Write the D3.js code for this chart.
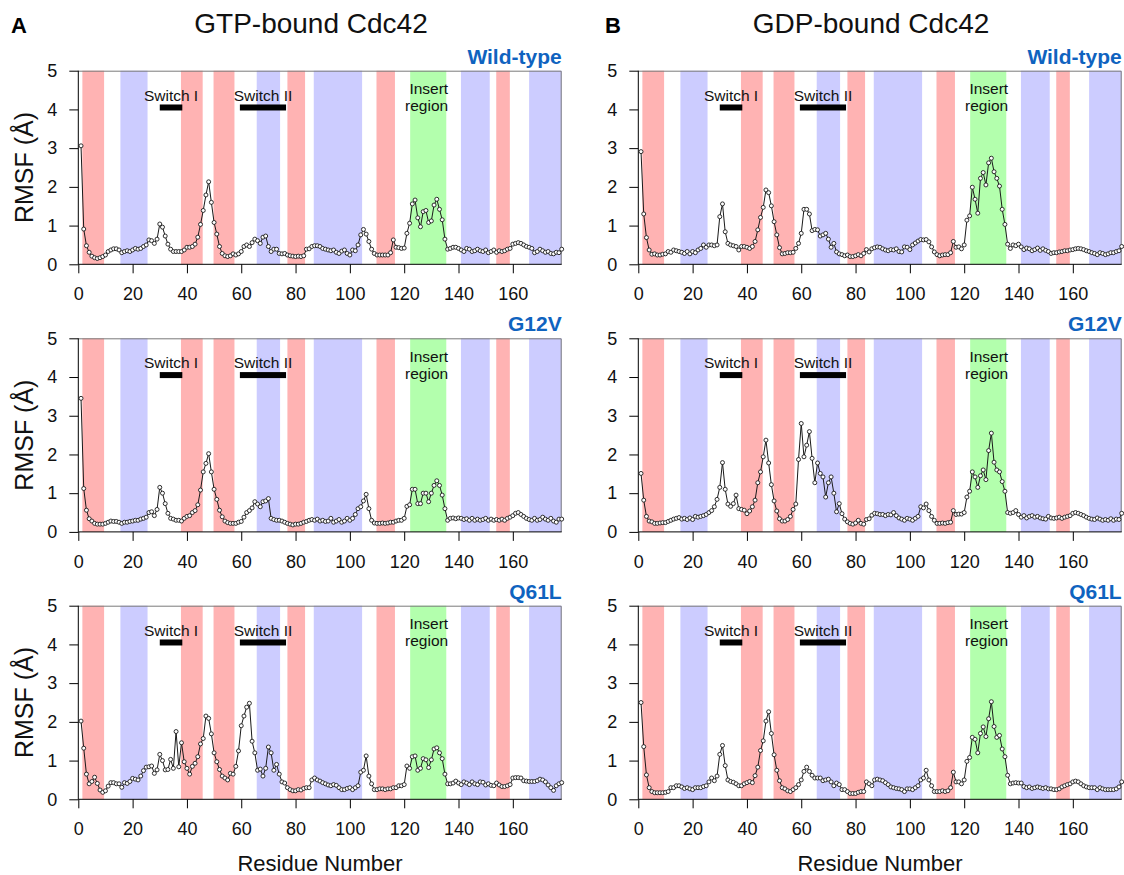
<!DOCTYPE html>
<html>
<head>
<meta charset="utf-8">
<script src="https://cdn.jsdelivr.net/npm/d3@7"></script>
<style>
  body { margin: 0; background: #fff; }
  text { font-family: Arial, "Liberation Sans", sans-serif; }
</style>
</head>
<body>
<svg id="chart" width="1124" height="875"></svg>
<script>
// residue axis and RMSF axis
const residueMax = 178;
const xTickValues = [0, 20, 40, 60, 80, 100, 120, 140, 160];
const yTickValues = [0, 1, 2, 3, 4, 5];

// secondary structure shading (residue ranges)
const strandBands = [[1.5, 9.5], [37.8, 45.8], [49.8, 57.5], [77, 83.5], [109.8, 116.6], [153.9, 158.9]];
const helixBands = [[15.5, 25.5], [65.7, 74.3], [86.7, 104.5], [140.9, 151.5], [166, 178]];
const insertBand = [[122.2, 135.5]];
const switchLabels = ['Switch I', 'Switch II'];
const switchRanges = [[30, 38.3], [59.5, 76.5]];

const columnTitles = ['GTP-bound Cdc42', 'GDP-bound Cdc42'];
const panelLetters = ['A', 'B'];
const variantNames = ['Wild-type', 'G12V', 'Q61L'];

// RMSF (Å) per residue, residues 1..178
const gtpWildType = [
  3.06,0.91,0.48,0.31,0.21,0.17,0.15,0.17,0.2,0.24,
  0.33,0.37,0.4,0.4,0.37,0.3,0.33,0.35,0.33,0.37,
  0.41,0.39,0.41,0.46,0.5,0.63,0.61,0.54,0.65,1.04,
  0.96,0.73,0.52,0.39,0.33,0.33,0.33,0.33,0.37,0.44,
  0.44,0.46,0.52,0.7,1.03,1.39,1.79,2.13,1.6,1.08,
  0.78,0.46,0.28,0.22,0.2,0.22,0.27,0.24,0.27,0.33,
  0.46,0.5,0.46,0.56,0.65,0.61,0.54,0.7,0.73,0.46,
  0.33,0.39,0.39,0.28,0.27,0.28,0.24,0.22,0.21,0.2,
  0.21,0.2,0.22,0.39,0.4,0.46,0.48,0.48,0.46,0.41,
  0.39,0.37,0.35,0.37,0.31,0.28,0.34,0.37,0.28,0.24,
  0.37,0.35,0.5,0.76,0.9,0.78,0.59,0.39,0.28,0.24,
  0.24,0.24,0.24,0.24,0.3,0.63,0.44,0.43,0.41,0.42,
  0.8,1.06,1.56,1.66,1.2,0.97,1.36,1.39,1.08,1.12,
  1.53,1.68,1.42,1.15,0.65,0.39,0.41,0.44,0.44,0.41,
  0.37,0.33,0.41,0.39,0.33,0.35,0.39,0.35,0.33,0.37,
  0.3,0.33,0.37,0.31,0.35,0.33,0.35,0.39,0.41,0.52,
  0.54,0.56,0.54,0.5,0.46,0.44,0.41,0.3,0.33,0.39,
  0.35,0.31,0.33,0.28,0.27,0.31,0.3,0.39
];
const gtpG12V = [
  3.45,1.12,0.56,0.34,0.28,0.22,0.2,0.2,0.2,0.22,
  0.25,0.28,0.27,0.27,0.25,0.22,0.25,0.25,0.27,0.28,
  0.3,0.3,0.33,0.35,0.38,0.5,0.52,0.42,0.58,1.15,
  1.0,0.73,0.48,0.35,0.33,0.3,0.3,0.28,0.35,0.4,
  0.42,0.5,0.55,0.7,1.08,1.55,1.77,2.02,1.55,1.1,
  0.84,0.56,0.39,0.28,0.24,0.22,0.22,0.22,0.25,0.27,
  0.38,0.5,0.55,0.62,0.78,0.72,0.65,0.78,0.8,0.86,
  0.35,0.32,0.3,0.3,0.28,0.25,0.22,0.2,0.18,0.2,
  0.2,0.22,0.25,0.27,0.3,0.32,0.3,0.33,0.28,0.3,
  0.27,0.28,0.35,0.25,0.28,0.32,0.25,0.28,0.35,0.3,
  0.35,0.45,0.6,0.65,0.8,0.97,0.6,0.3,0.23,0.22,
  0.22,0.23,0.22,0.23,0.25,0.25,0.28,0.3,0.3,0.35,
  0.66,0.7,1.1,1.1,0.73,0.73,1.0,1.0,0.78,1.0,
  1.2,1.32,1.2,0.95,0.6,0.3,0.35,0.36,0.34,0.36,
  0.35,0.32,0.34,0.3,0.35,0.3,0.33,0.3,0.32,0.35,
  0.3,0.33,0.3,0.32,0.3,0.33,0.3,0.35,0.38,0.42,
  0.48,0.5,0.45,0.4,0.35,0.32,0.3,0.35,0.3,0.32,
  0.38,0.33,0.3,0.35,0.28,0.25,0.33,0.33
];
const gtpQ61L = [
  2.02,1.32,0.65,0.4,0.46,0.57,0.41,0.24,0.18,0.22,
  0.34,0.43,0.43,0.4,0.4,0.31,0.43,0.41,0.46,0.54,
  0.52,0.5,0.6,0.74,0.83,0.84,0.86,0.67,0.76,1.16,
  1.0,0.76,0.77,1.03,0.8,1.75,0.84,1.46,0.97,0.8,
  0.65,0.85,0.93,1.1,1.43,1.57,2.15,2.09,1.69,1.2,
  0.97,0.77,0.6,0.55,0.5,0.67,0.65,0.85,1.25,1.9,
  2.15,2.38,2.48,1.5,1.2,0.75,0.78,0.6,0.8,1.35,
  1.2,0.75,0.9,0.65,0.45,0.42,0.3,0.25,0.22,0.22,
  0.25,0.24,0.28,0.3,0.3,0.5,0.55,0.5,0.47,0.43,
  0.4,0.37,0.35,0.38,0.36,0.3,0.25,0.25,0.28,0.3,
  0.25,0.3,0.35,0.7,0.75,1.12,0.6,0.4,0.25,0.25,
  0.27,0.27,0.25,0.27,0.27,0.3,0.3,0.35,0.35,0.38,
  0.86,0.8,1.1,1.12,0.75,0.8,1.05,1.02,0.82,1.02,
  1.3,1.33,1.2,1.05,0.65,0.4,0.4,0.42,0.47,0.42,
  0.38,0.45,0.42,0.38,0.45,0.4,0.38,0.45,0.44,0.37,
  0.4,0.36,0.35,0.42,0.37,0.33,0.33,0.35,0.38,0.55,
  0.56,0.56,0.55,0.48,0.47,0.46,0.46,0.46,0.48,0.52,
  0.5,0.45,0.37,0.3,0.23,0.35,0.4,0.43
];
const gdpWildType = [
  2.91,1.3,0.69,0.37,0.26,0.27,0.24,0.24,0.26,0.27,
  0.33,0.31,0.37,0.35,0.33,0.31,0.28,0.33,0.27,0.33,
  0.3,0.37,0.41,0.5,0.44,0.5,0.5,0.48,0.5,1.23,
  1.56,0.84,0.54,0.5,0.48,0.46,0.37,0.46,0.46,0.44,
  0.41,0.46,0.59,0.89,1.21,1.47,1.92,1.85,1.51,1.1,
  0.76,0.43,0.27,0.28,0.3,0.3,0.31,0.41,0.54,0.8,
  1.42,1.42,1.3,0.87,0.9,0.89,0.73,0.76,0.8,0.65,
  0.44,0.54,0.32,0.27,0.25,0.22,0.24,0.2,0.2,0.22,
  0.25,0.22,0.28,0.38,0.32,0.4,0.43,0.45,0.44,0.4,
  0.37,0.35,0.38,0.37,0.4,0.33,0.32,0.45,0.44,0.38,
  0.5,0.55,0.6,0.64,0.63,0.64,0.58,0.45,0.32,0.25,
  0.22,0.24,0.25,0.25,0.3,0.59,0.44,0.45,0.4,0.5,
  1.14,1.25,1.99,1.68,1.32,2.22,2.37,2.05,2.62,2.74,
  2.39,2.22,2.02,1.42,1.03,0.52,0.41,0.5,0.48,0.52,
  0.45,0.38,0.42,0.4,0.35,0.38,0.42,0.36,0.4,0.36,
  0.33,0.28,0.3,0.3,0.32,0.33,0.35,0.35,0.37,0.38,
  0.4,0.41,0.4,0.38,0.35,0.33,0.3,0.28,0.25,0.3,
  0.28,0.25,0.27,0.3,0.3,0.33,0.35,0.46
];
const gdpG12V = [
  1.51,0.82,0.4,0.28,0.26,0.22,0.22,0.23,0.24,0.24,
  0.27,0.3,0.33,0.35,0.37,0.33,0.35,0.32,0.36,0.32,
  0.4,0.38,0.4,0.42,0.45,0.5,0.55,0.65,0.84,1.15,
  1.79,1.1,0.72,0.66,0.73,0.95,0.6,0.58,0.56,0.47,
  0.54,0.65,0.82,1.27,1.55,1.94,2.37,1.78,1.22,0.8,
  0.54,0.34,0.28,0.28,0.32,0.4,0.58,0.72,1.87,2.8,
  1.94,2.24,2.59,1.9,1.27,1.78,1.51,1.42,0.9,1.27,
  1.42,1.0,0.52,0.73,0.47,0.33,0.26,0.22,0.2,0.23,
  0.3,0.22,0.2,0.32,0.34,0.43,0.48,0.47,0.45,0.45,
  0.42,0.45,0.44,0.5,0.42,0.36,0.33,0.3,0.35,0.33,
  0.3,0.35,0.4,0.65,0.62,0.72,0.55,0.4,0.3,0.22,
  0.22,0.23,0.22,0.24,0.25,0.55,0.45,0.46,0.46,0.5,
  0.9,1.05,1.55,1.42,1.15,1.45,1.6,1.35,2.1,2.55,
  1.8,1.6,1.55,1.3,1.05,0.5,0.48,0.5,0.55,0.45,
  0.38,0.42,0.36,0.4,0.42,0.38,0.4,0.36,0.34,0.33,
  0.4,0.36,0.35,0.36,0.38,0.35,0.38,0.4,0.42,0.48,
  0.5,0.48,0.45,0.42,0.38,0.35,0.33,0.32,0.36,0.33,
  0.3,0.32,0.3,0.34,0.3,0.33,0.32,0.48
];
const gdpQ61L = [
  2.5,1.36,0.63,0.3,0.2,0.17,0.17,0.17,0.17,0.18,
  0.2,0.3,0.3,0.35,0.35,0.32,0.28,0.3,0.27,0.25,
  0.3,0.3,0.3,0.33,0.35,0.45,0.55,0.48,0.6,1.16,
  1.39,0.87,0.5,0.46,0.44,0.4,0.35,0.35,0.4,0.43,
  0.46,0.43,0.61,0.83,1.26,1.51,2.02,2.26,1.7,1.15,
  0.75,0.48,0.3,0.27,0.22,0.2,0.25,0.3,0.38,0.5,
  0.72,0.83,0.72,0.62,0.55,0.55,0.55,0.48,0.5,0.52,
  0.45,0.35,0.42,0.38,0.25,0.25,0.2,0.15,0.15,0.15,
  0.18,0.2,0.2,0.45,0.4,0.35,0.5,0.52,0.5,0.48,
  0.43,0.38,0.32,0.3,0.28,0.27,0.25,0.2,0.27,0.27,
  0.25,0.3,0.35,0.5,0.55,0.75,0.5,0.35,0.2,0.2,
  0.2,0.22,0.2,0.22,0.3,0.7,0.45,0.45,0.4,0.5,
  0.98,1.08,1.6,1.55,1.2,1.7,1.87,1.62,2.08,2.52,
  1.88,1.6,1.65,1.3,1.1,0.62,0.4,0.42,0.43,0.42,
  0.42,0.33,0.3,0.32,0.28,0.3,0.32,0.3,0.28,0.3,
  0.27,0.27,0.25,0.25,0.27,0.32,0.35,0.38,0.4,0.45,
  0.47,0.45,0.4,0.35,0.32,0.3,0.3,0.3,0.25,0.3,
  0.27,0.25,0.25,0.25,0.25,0.27,0.32,0.45
];

const seriesGrid = [
  [gtpWildType, gdpWildType],
  [gtpG12V, gdpG12V],
  [gtpQ61L, gdpQ61L]
];

// layout
const columnLeft = [78.3, 638.3];
const rowTop = [70.7, 338.3, 605.7];
const plotWidth = 483.4;
const plotHeight = 193.6;

const colors = {
  strand: '#ffb3b3',
  helix: '#ccccff',
  insert: '#b3ffad',
  variant: '#0f63bf'
};

const svg = d3.select('#chart');
svg.append('rect').attr('width', 1124).attr('height', 875).attr('fill', '#fff');

const x = d3.scaleLinear().domain([0, residueMax]).range([0, plotWidth]);
const y = d3.scaleLinear().domain([0, 5]).range([plotHeight, 0]);

function drawPanel(g, values, variant, withYTitle) {
  // shaded regions
  const bands = [
    ...strandBands.map(b => ({ range: b, fill: colors.strand })),
    ...helixBands.map(b => ({ range: b, fill: colors.helix })),
    ...insertBand.map(b => ({ range: b, fill: colors.insert }))
  ];
  g.append('g').selectAll('rect')
    .data(bands)
    .join('rect')
    .attr('x', d => x(d.range[0]))
    .attr('y', 0)
    .attr('width', d => x(d.range[1]) - x(d.range[0]))
    .attr('height', plotHeight)
    .attr('fill', d => d.fill);

  // frame top and right
  g.append('path')
    .attr('d', `M0,0.5H${plotWidth - 0.5}V${plotHeight}`)
    .attr('fill', 'none')
    .attr('stroke', '#7a7a7a')
    .attr('stroke-width', 1);

  // switch bars and labels
  switchRanges.forEach((r, i) => {
    g.append('rect')
      .attr('x', x(r[0]))
      .attr('y', y(4.05) - 3)
      .attr('width', x(r[1]) - x(r[0]))
      .attr('height', 6)
      .attr('fill', '#000');
    g.append('text')
      .attr('x', x((r[0] + r[1]) / 2))
      .attr('y', y(4.22))
      .attr('text-anchor', 'middle')
      .attr('font-size', 15.5)
      .attr('fill', '#111')
      .text(switchLabels[i]);
  });
  const insertMid = (insertBand[0][0] + insertBand[0][1]) / 2;
  g.append('text')
    .attr('x', x(insertMid + 0.2))
    .attr('y', y(4.4))
    .attr('text-anchor', 'middle')
    .attr('font-size', 15.5)
    .attr('fill', '#111')
    .text('Insert');
  g.append('text')
    .attr('x', x(insertMid - 0.6))
    .attr('y', y(3.96))
    .attr('text-anchor', 'middle')
    .attr('font-size', 15.5)
    .attr('fill', '#111')
    .text('region');

  // axes
  const xAxis = g.append('g').attr('transform', `translate(0,${plotHeight})`);
  xAxis.call(d3.axisBottom(x).tickValues(d3.range(0, residueMax + 1, 5)).tickSize(5).tickFormat(''));
  xAxis.call(d3.axisBottom(x).tickValues(xTickValues).tickSize(9).tickFormat(d3.format('d')));
  xAxis.selectAll('text')
    .attr('font-size', 18)
    .attr('fill', '#111')
    .attr('dy', 0)
    .attr('y', 36);

  const yAxis = g.append('g');
  yAxis.call(d3.axisLeft(y).tickValues(d3.range(0, 5.01, 0.2)).tickSize(5).tickFormat(''));
  yAxis.call(d3.axisLeft(y).tickValues(yTickValues).tickSize(9).tickFormat(d3.format('d')));
  yAxis.selectAll('text')
    .attr('font-size', 18)
    .attr('fill', '#111')
    .attr('x', -21);
  g.selectAll('.domain').attr('d', null);
  xAxis.append('line').attr('x1', 0).attr('x2', plotWidth).attr('stroke', '#000');
  yAxis.append('line').attr('y1', 0).attr('y2', plotHeight).attr('stroke', '#000');

  // series
  const points = values.map((v, i) => ({ residue: i + 1, rmsf: v }));
  g.append('path')
    .datum(points)
    .attr('fill', 'none')
    .attr('stroke', '#1a1a1a')
    .attr('stroke-width', 1)
    .attr('d', d3.line().x(d => x(d.residue)).y(d => y(d.rmsf)));
  g.append('g').selectAll('circle')
    .data(points)
    .join('circle')
    .attr('cx', d => x(d.residue))
    .attr('cy', d => y(d.rmsf))
    .attr('r', 2)
    .attr('fill', '#fff')
    .attr('stroke', '#1a1a1a')
    .attr('stroke-width', 0.9);

  // variant name
  g.append('text')
    .attr('x', plotWidth)
    .attr('y', -7)
    .attr('text-anchor', 'end')
    .attr('font-size', 21)
    .attr('font-weight', 'bold')
    .attr('fill', colors.variant)
    .text(variant);

  if (withYTitle) {
    g.append('text')
      .attr('transform', `translate(-45,${plotHeight / 2}) rotate(-90)`)
      .attr('text-anchor', 'middle')
      .attr('font-size', 25)
      .attr('fill', '#111')
      .text('RMSF (Å)');
  }
}

columnLeft.forEach((left, c) => {
  rowTop.forEach((top, r) => {
    const g = svg.append('g').attr('transform', `translate(${left},${top})`);
    drawPanel(g, seriesGrid[r][c], variantNames[r], c === 0);
  });

  svg.append('text')
    .attr('x', left + plotWidth / 2 - 9)
    .attr('y', 33)
    .attr('text-anchor', 'middle')
    .attr('font-size', 28)
    .attr('fill', '#111')
    .text(columnTitles[c]);

  svg.append('text')
    .attr('x', left + plotWidth / 2)
    .attr('y', 871)
    .attr('text-anchor', 'middle')
    .attr('font-size', 22)
    .attr('fill', '#111')
    .text('Residue Number');
});

svg.append('text').attr('x', 11).attr('y', 33)
  .attr('font-size', 22).attr('font-weight', 'bold').text(panelLetters[0]);
svg.append('text').attr('x', 605).attr('y', 33)
  .attr('font-size', 22).attr('font-weight', 'bold').text(panelLetters[1]);
</script>
</body>
</html>
